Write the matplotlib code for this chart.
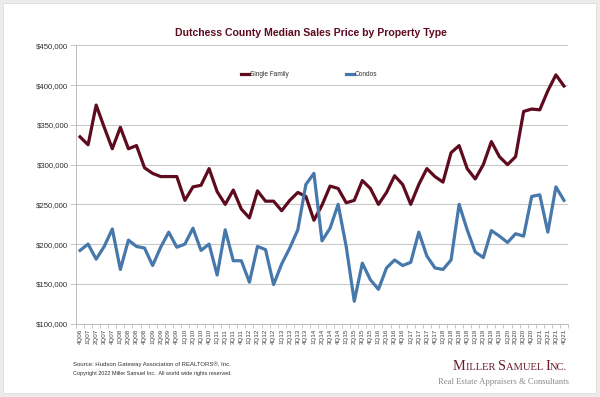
import matplotlib.pyplot as plt
from matplotlib.patches import Rectangle
from matplotlib.ticker import FuncFormatter, FixedLocator

plt.rcParams['font.family'] = ['Liberation Sans', 'DejaVu Sans']

# quarters 4Q06 .. 4Q21
quarters = ['4Q06'] + ['%dQ%02d' % (q, y) for y in range(7, 22) for q in range(1, 5)]

single_family = [335000, 325000, 375000, 347000, 320000, 347000, 320000, 324000,
                 296000, 289000, 285000, 285000, 285000, 255000, 272000, 274000,
                 295000, 266000, 250000, 268000, 244000, 233000, 267000, 254000,
                 254000, 242000, 255000, 265000, 260000, 230000, 249000, 273000,
                 270000, 252000, 255000, 280000, 270000, 250000, 265000, 286000,
                 275000, 250000, 275000, 295000, 285000, 278000, 315000, 324000,
                 295000, 282000, 300000, 329000, 310000, 300000, 310000, 367000,
                 370000, 369000, 393000, 413000, 399000]

condos = [192000, 200000, 181000, 197000, 219000, 168000, 205000, 197000,
          195000, 173000, 196000, 215000, 196000, 200000, 220000, 192000,
          200000, 161000, 218000, 179000, 179000, 152000, 197000, 193000,
          149000, 175000, 195000, 218000, 275000, 289000, 204000, 220000,
          250000, 197000, 128000, 176000, 155000, 143000, 170000, 180000,
          173000, 177000, 215000, 185000, 170000, 168000, 180000, 250000,
          218000, 190000, 183000, 217000, 210000, 202000, 213000, 210000,
          260000, 262000, 215000, 272000, 255000]

W, H = 600, 397
fig = plt.figure(figsize=(W / 100, H / 100), dpi=100, facecolor='#ebebeb')

# white card behind everything
fig.patches.append(Rectangle((3 / W, 4 / H), 593 / W, 390 / H, transform=fig.transFigure,
                             facecolor='white', edgecolor='#dcdcdc', lw=0.6, zorder=-10))

ax = fig.add_axes([76 / W, 1 - 323.5 / H, 492 / W, 278 / H])
ax.set_facecolor('none')

x = list(range(len(quarters)))
ax.plot(x, single_family, color='#5e0b1f', lw=2.3, label='Single Family')
ax.plot(x, condos, color='#4778ab', lw=2.3, label='Condos')

ax.set_xlim(-0.5, len(quarters) - 0.5)
ax.set_ylim(100000, 450000)
ax.set_yticks(range(100000, 450001, 50000))
ax.yaxis.set_major_formatter(FuncFormatter(lambda v, p: '${:,.0f}'.format(v)))
ax.grid(axis='y', color='#c9c9c9', lw=0.8)
ax.set_axisbelow(True)

ax.set_xticks(x)
ax.set_xticklabels(quarters, rotation=90, fontsize=4.5, color='#404040')
ax.xaxis.set_minor_locator(FixedLocator([i - 0.5 for i in range(len(quarters) + 1)]))
ax.tick_params(axis='x', which='major', length=0, pad=4)
ax.tick_params(axis='x', which='minor', length=3, color='#bdbdbd', width=0.6)
ax.tick_params(axis='y', length=4, color='#bdbdbd', width=0.6, labelsize=5.6,
               labelcolor='#303030', pad=1.5)

for s in ['top', 'right']:
    ax.spines[s].set_visible(False)
for s in ['left', 'bottom']:
    ax.spines[s].set_color('#bdbdbd')
    ax.spines[s].set_linewidth(0.7)

fig.text(311 / W, 1 - 32.5 / H, 'Dutchess County Median Sales Price by Property Type',
         ha='center', va='center', fontsize=7.6, fontweight='bold', color='#5e0b1f')

leg = ax.legend(loc='center', bbox_to_anchor=(309 / W, 1 - 74.6 / H),
                bbox_transform=fig.transFigure, ncol=2, frameon=False, fontsize=4.7,
                handlelength=1.25, handletextpad=0.1, columnspacing=8.8)
for t in leg.get_texts():
    t.set_color('#303030')

fig.text(73 / W, 1 - 363.7 / H, 'Source: Hudson Gateway Association of REALTORS®, Inc.',
         ha='left', va='center', fontsize=4.3, color='#303030')
fig.text(73 / W, 1 - 373.7 / H, 'Copyright 2022 Miller Samuel Inc.  All world wide rights reserved.',
         ha='left', va='center', fontsize=4.0, color='#303030')

# logo: small caps built from pieces, each placed after the previous one
big, small = 10.3, 7.6
shift = (big - small) * 0.216  # descent difference, keeps baselines level
pieces = [('M', big), ('ILLER ', small), ('S', big), ('AMUEL ', small), ('I', big), ('NC.', small)]
prev = fig.text(453 / W, 1 - 373 / H, pieces[0][0], fontsize=big, family='Liberation Serif',
                color='#6b1a2a', ha='left', va='bottom')
for txt, sz in pieces[1:]:
    dy = shift if sz == small else -shift
    prev = ax.annotate(txt, xy=(1, 0), xycoords=prev, xytext=(0, dy), textcoords='offset points',
                       fontsize=sz, family='Liberation Serif', color='#6b1a2a',
                       ha='left', va='bottom', annotation_clip=False)
fig.text(569 / W, 1 - 382 / H, 'Real Estate Appraisers & Consultants', ha='right', va='center',
         fontsize=6.2, family='Liberation Serif', color='#8a8a8a')

fig.savefig('out.png', dpi=100, facecolor=fig.get_facecolor())
